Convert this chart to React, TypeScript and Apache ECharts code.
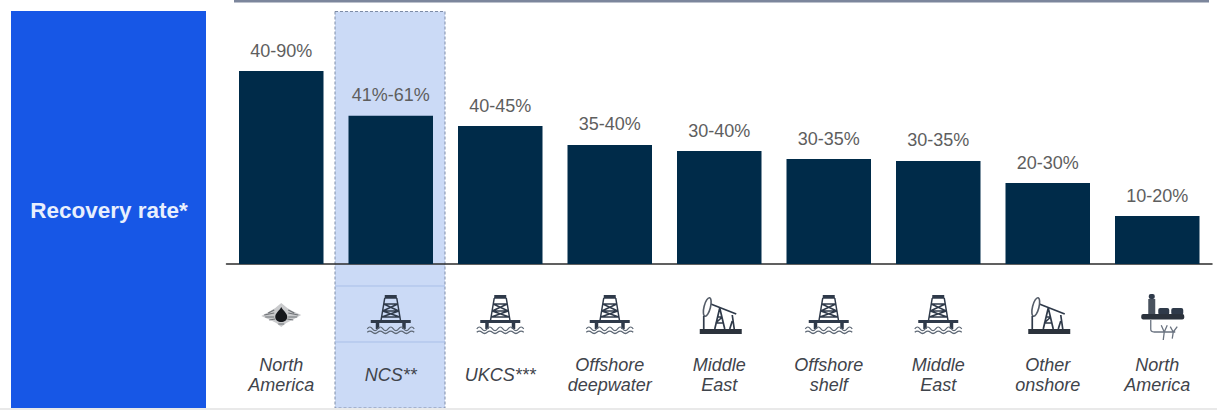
import React, { useEffect, useRef } from "react";
import * as echarts from "echarts";

const categories = ["North\nAmerica", "NCS**", "UKCS***", "Offshore\ndeepwater", "Middle\nEast", "Offshore\nshelf", "Middle\nEast", "Other\nonshore", "North\nAmerica"];
const barValues = [60.3, 46.3, 43.1, 37.2, 35.3, 32.8, 32.2, 25.3, 15];
const rangeLabels = ["40-90%", "41%-61%", "40-45%", "35-40%", "30-40%", "30-35%", "30-35%", "20-30%", "10-20%"];
const iconKinds = ["drop", "rig", "rig", "rig", "jack", "rig", "rig", "jack", "field"];
const headerLabel = "Recovery rate*";

const INK = "#2f3a4a";

function rigIcon(x: number, y: number) {
  const tower =
    "M-6 -17 L-10 7 M6 -17 L10 7 M-6 -17 L6 -17 M-7 -11 L7 -11 M-8 -4 L8 -4 M-9 2 L9 2 M-7 -11 L8 -4 M7 -11 L-8 -4 M-8 -4 L9 2 M8 -4 L-9 2";
  const waves =
    "M-23 15 q2.5 -3 5 0 q2.5 3 5 0 q2.5 -3 5 0 q2.5 3 5 0 q2.5 -3 5 0 q2.5 3 5 0 q2.5 -3 5 0 q2.5 3 5 0 q2.5 -3 5 0 M-23 18 q2.5 -2 5 0 q2.5 2 5 0 q2.5 -2 5 0 q2.5 2 5 0 q2.5 -2 5 0 q2.5 2 5 0 q2.5 -2 5 0 q2.5 2 5 0 q2.5 -2 5 0";
  return {
    type: "group",
    x,
    y,
    children: [
      { type: "rect", shape: { x: -6, y: -20, width: 12, height: 3 }, style: { fill: INK } },
      { type: "path", shape: { pathData: tower, x: -10, y: -17, width: 20, height: 24, layout: "cover" }, style: { stroke: INK, fill: "none", lineWidth: 1.5 } },
      { type: "rect", shape: { x: -20, y: 5, width: 40, height: 3 }, style: { fill: INK } },
      { type: "rect", shape: { x: -15, y: 8, width: 3.5, height: 6 }, style: { fill: INK } },
      { type: "rect", shape: { x: 11.5, y: 8, width: 3.5, height: 6 }, style: { fill: INK } },
      { type: "path", shape: { pathData: waves, x: -23.5, y: 12, width: 47, height: 6.5, layout: "cover" }, style: { stroke: "#5e6875", fill: "none", lineWidth: 1.2 } },
    ],
  };
}

function jackIcon(x: number, y: number) {
  const frame =
    "M-15.5 1 L-15.5 14 M-4.5 14 L0.5 -7 L5.5 14 M-3 8 L4 8 M-2 2 L3 2 M-3.5 8 L3 2 M13 0 L15 14 M13 6 L10.5 14";
  return {
    type: "group",
    x,
    y,
    children: [
      { type: "rect", shape: { x: -19.5, y: 14, width: 42, height: 5 }, style: { fill: "#2b323c" } },
      { type: "line", shape: { x1: -11, y1: -12, x2: 17, y2: -1 }, style: { stroke: INK, lineWidth: 1.7 } },
      { type: "ellipse", shape: { cx: 0, cy: 0, rx: 3.2, ry: 9.5 }, x: -12, y: -8, rotation: -0.25, style: { fill: "#ffffff", stroke: "#545c68", lineWidth: 1.6 } },
      { type: "path", shape: { pathData: frame, x: -15.5, y: -7, width: 30.5, height: 21, layout: "cover" }, style: { stroke: INK, fill: "none", lineWidth: 1.7 } },
    ],
  };
}

function dropIcon(x: number, y: number) {
  const splash = "M-20 1 L-11 -4 L-6 -7 L0 -12 L6 -7 L11 -4 L20 0 L11 5 L5 8 L0 12 L-5 8 L-11 5 Z";
  const specks = "M-17 0 L-7 -2 M-16 2 L-7 2 M-13 -2 L-7 -5 M-12 5 L-6 4 M7 -2 L17 0 M7 2 L16 2 M7 -5 L13 -2 M6 4 L12 5 M-3 9 L3 9";
  const drop = "M0 -8 C2 -4 6 -2 6 2 C6 5 3 7 0 7 C-3 7 -6 5 -6 2 C-6 -2 -2 -4 0 -8 Z";
  return {
    type: "group",
    x,
    y,
    children: [
      { type: "path", shape: { pathData: splash, x: -20, y: -12, width: 40, height: 24, layout: "cover" }, style: { fill: "#c9cacc" } },
      { type: "path", shape: { pathData: specks, x: -17, y: -5, width: 34, height: 14, layout: "cover" }, style: { stroke: "#6f7276", fill: "none", lineWidth: 1.2 } },
      { type: "path", shape: { pathData: drop, x: -6, y: -8, width: 12, height: 15, layout: "cover" }, style: { fill: "#16181c" } },
    ],
  };
}

function fieldIcon(x: number, y: number) {
  const roots = "M-6.5 0 L-6.5 7 Q-6.5 9 -3 9 L18 9 M4 4 L7 9 L6 15 M10 4 L7 9 M13 5 L16 9 L15 14 M20 5 L16 9";
  return {
    type: "group",
    x,
    y,
    children: [
      { type: "rect", shape: { x: -9, y: -17, width: 7, height: 16 }, style: { fill: "#49525e" } },
      { type: "rect", shape: { x: -8.5, y: -22, width: 6, height: 5, r: 2 }, style: { fill: INK } },
      { type: "rect", shape: { x: 1, y: -8, width: 11, height: 7, r: 2 }, style: { fill: INK } },
      { type: "rect", shape: { x: 14, y: -8, width: 12, height: 7, r: 2 }, style: { fill: INK } },
      { type: "rect", shape: { x: -16, y: -2, width: 43, height: 5.5, r: 2 }, style: { fill: "#2b323c" } },
      { type: "path", shape: { pathData: roots, x: -6.5, y: 4, width: 26.5, height: 20, layout: "cover" }, style: { stroke: "#6a7380", fill: "none", lineWidth: 1.3 } },
    ],
  };
}

const iconDrawers: Record<string, (x: number, y: number) => any> = {
  drop: dropIcon,
  rig: rigIcon,
  jack: jackIcon,
  field: fieldIcon,
};
const iconYOffset: Record<string, number> = { drop: 51, rig: 51, jack: 51, field: 52 };

export default function App() {
  const ref = useRef<HTMLDivElement>(null);
  useEffect(() => {
    const chart = echarts.init(ref.current!, undefined, { renderer: "svg" });
    chart.setOption({
      animation: false,
      backgroundColor: "#ffffff",
      textStyle: { fontFamily: "Liberation Sans" },
      grid: { left: 226.5, right: 5, top: 8, height: 256 },
      xAxis: {
        type: "category",
        data: categories,
        axisTick: { show: false },
        axisLine: { lineStyle: { color: "#2b2b2b", width: 1.5 } },
        axisLabel: {
          interval: 0,
          margin: 111,
          fontSize: 18,
          fontStyle: "italic",
          lineHeight: 20,
          color: "#3f444b",
          verticalAlign: "middle",
        },
      },
      yAxis: { type: "value", min: 0, max: 80, show: false },
      series: [
        {
          type: "bar",
          data: barValues,
          barWidth: 84.5,
          itemStyle: { color: "#002b49" },
          label: {
            show: true,
            position: "top",
            distance: 11.5,
            fontSize: 18,
            color: "#5e5e5e",
            formatter: (p: any) => rangeLabels[p.dataIndex],
          },
          z: 3,
        },
        {
          type: "custom",
          data: iconKinds.map((_, i) => i),
          encode: { x: 0 },
          silent: true,
          z: 4,
          renderItem: (_: any, api: any) => {
            const i = api.value(0);
            const kind = iconKinds[i];
            const pt = api.coord([i, 0]);
            return iconDrawers[kind](pt[0], pt[1] + iconYOffset[kind]);
          },
        },
      ],
      graphic: [
        { type: "rect", z: 0, shape: { x: 11, y: 11, width: 195, height: 397 }, style: { fill: "#1757e6" } },
        {
          type: "text",
          z: 1,
          x: 109,
          y: 210,
          style: {
            text: headerLabel,
            fill: "#e8effd",
            font: 'bold 22.5px "Liberation Sans"',
            textAlign: "center",
            textVerticalAlign: "middle",
          },
        },
        { type: "rect", z: 0, shape: { x: 335, y: 11.5, width: 110, height: 396.5 }, style: { fill: "#cbdaf6", stroke: "#7d8ba6", lineWidth: 1, lineDash: [3, 2] } },
        { type: "line", z: 1, shape: { x1: 335, y1: 286, x2: 445, y2: 286 }, style: { stroke: "#a9bfe8", lineWidth: 1 } },
        { type: "line", z: 1, shape: { x1: 335, y1: 342, x2: 445, y2: 342 }, style: { stroke: "#a9bfe8", lineWidth: 1 } },
        { type: "rect", z: 1, shape: { x: 234, y: 0, width: 975, height: 2.5 }, style: { fill: "#7c869c" } },
        { type: "rect", z: 0, shape: { x: 0, y: 408, width: 1217, height: 2 }, style: { fill: "#e9e9e9" } },
      ],
    });
    return () => chart.dispose();
  }, []);
  return <div ref={ref} style={{ position: "absolute", left: 0, top: 0, width: 1217, height: 411 }} />;
}
